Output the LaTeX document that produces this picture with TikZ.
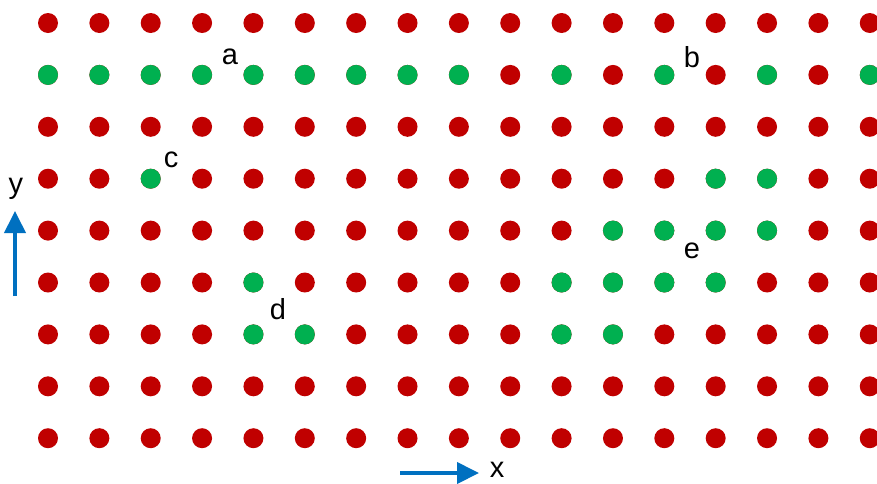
\documentclass[tikz,border=0pt]{standalone}
\usepackage{fontspec}
\setmainfont{Liberation Sans}
\usetikzlibrary{arrows.meta}
\definecolor{dotred}{RGB}{192,0,0}
\definecolor{dotgreen}{RGB}{0,176,80}
\definecolor{axisblue}{RGB}{0,112,192}
\begin{document}
\begin{tikzpicture}[x=1pt,y=-1pt,
  reddot/.style={fill=dotred},
  greendot/.style={fill=dotgreen},
  lbl/.style={inner sep=0pt,font=\fontsize{29}{34}\selectfont},
  axisarrow/.style={draw=axisblue,line width=4pt,-{Triangle[length=22pt,width=21pt]}}]
\useasboundingbox (0,0) rectangle (877,483);
\fill[white] (0,0) rectangle (877,483);
% all dots red
\foreach \i in {0,...,16}{
  \foreach \j in {0,...,8}{
    \fill[reddot] ({48+51.36*\i},{23+51.9*\j}) circle (10);
  }
}
% green dots
\foreach \i/\j in {0/1,1/1,2/1,3/1,4/1,5/1,6/1,7/1,8/1,10/1,12/1,14/1,16/1,
  2/3,13/3,14/3,
  11/4,12/4,13/4,14/4,
  4/5,10/5,11/5,12/5,13/5,
  4/6,5/6,10/6,11/6}{
  \fill[greendot] ({48+51.36*\i},{23+51.9*\j}) circle (10);
}
% labels
\node[lbl] (la) at (230,57) {a};
\node[lbl] (lb) at (692,57) {b};
\node[lbl] (lc) at (171,160) {c};
\node[lbl] (ld) at (278,309) {d};
\node[lbl] (le) at (692,251) {e};
\node[lbl] (ly) at (16,189) {y};
\node[lbl] (lx) at (497,470) {x};
% axes
\coordinate (ya) at (15,296);
\coordinate (yb) at (15,211);
\coordinate (xa) at (400,473);
\coordinate (xb) at (479,473);
\draw[axisarrow] (ya) -- (yb);
\draw[axisarrow] (xa) -- (xb);
\end{tikzpicture}
\end{document}
